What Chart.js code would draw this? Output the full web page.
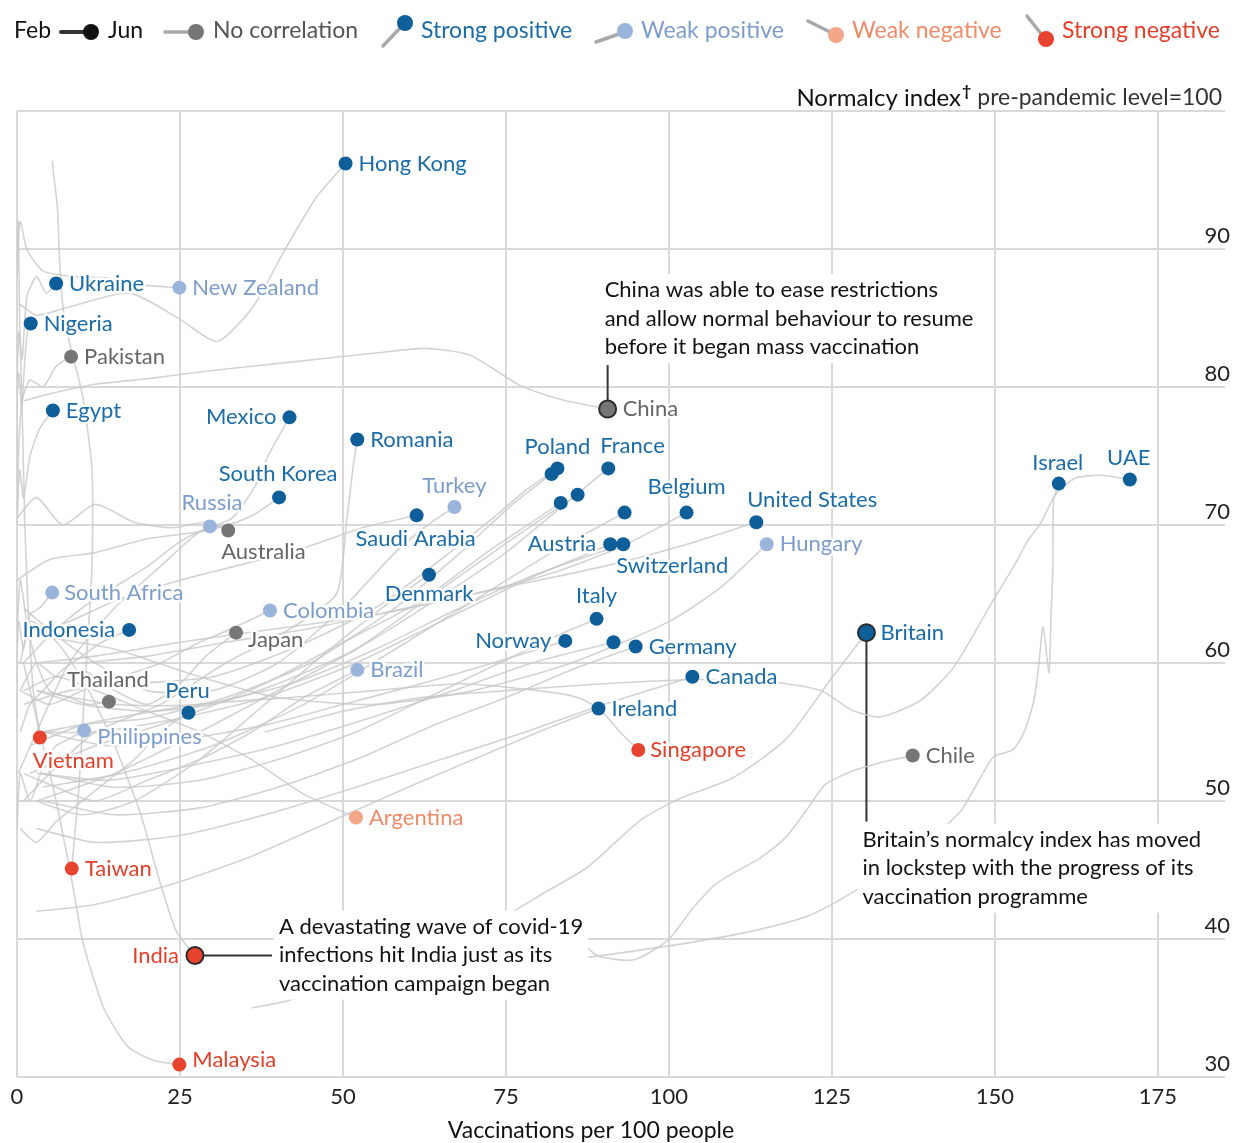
<!DOCTYPE html>
<html>
<head>
<meta charset="utf-8">
<script src="https://cdn.jsdelivr.net/npm/chart.js@4.4.1/dist/chart.umd.min.js"></script>
<style>
html, body { margin: 0; padding: 0; background: #fff; }
#container { width: 1241px; height: 1143px; }
</style>
</head>
<body>
<div id="container"><canvas id="chartcanvas" width="1241" height="1143"></canvas></div>
<script>
// vaccinations per 100 people (x) vs normalcy index (y), Feb -> Jun
var hongKong = [[0.4,86.0],[3,85.2],[8,85.8],[17.3,86.8],[25,84.9],[30.7,83.3],[36.2,85.8],[40.8,89.7],[46,93.8],[50.4,96.2]];
var ukraine = [[0,80.5],[0.3,84],[0.8,82],[1.5,86.5],[3,88],[4.5,86.8],[6.0,87.5]];
var newZealand = [[0,89.5],[0.5,92],[1.5,90],[4,88.4],[9,88],[14,87.9],[19,87.4],[24.9,87.2]];
var nigeria = [[0,75],[0,79],[0.3,81],[0.7,78.5],[1.2,82],[1.6,84],[2.1,84.6]];
var pakistan = [[0,72],[0.3,76],[0.8,79],[2,80.5],[4,80],[6,81.5],[8.3,82.2]];
var egypt = [[0,70],[0.4,74],[1,72],[2,75],[3.5,77],[5.5,78.3]];
var mexico = [[0.2,52],[3,55],[8,60],[15,64],[22,67],[28,69.5],[33,70.5],[36.5,72.8],[38.5,75],[41.8,77.8]];
var romania = [[1,50],[5,52],[12,55],[22,57],[32,60],[42,62.5],[49,65],[50.5,70],[51.5,74],[52.2,76.2]];
var china = [[1,79],[5,79.5],[12,80.2],[20,80.6],[30,81.2],[42,81.8],[55.7,82.5],[62.6,82.8],[69.5,82.3],[77.2,80.1],[83.4,79.1],[90.6,78.4]];
var poland = [[1,57],[8,58],[18,58.5],[30,59],[42,61],[55,64],[65,67.5],[73,70.5],[78,72.5],[82.9,74.1]];
var france = [[3,58],[10,57],[20,56.5],[30,57],[40,58.5],[52,61],[64,64.5],[75,68],[84,71.5],[90.7,74.1]];
var israel = [[58,36],[70,37.5],[85,38.5],[100,39.5],[112,40.5],[122,41.8],[132,44.5],[140,47.2],[144.8,49.3],[147.8,51.7],[149.8,53.2],[152.7,53.7],[154.4,54.9],[156,57.3],[156.7,59.7],[157.4,62.6],[158.3,59.3],[158.6,63.3],[158.9,67.0],[159.0,71.8],[159.8,73.0]];
var uae = [[38,55],[50,56.5],[62,57.5],[75,58],[90,58.5],[105,58.8],[116,58.6],[123.3,58.0],[128,56.6],[132.5,56.1],[138.6,57.3],[143.7,59.7],[149.8,64.6],[152.9,67.0],[155.1,68.9],[157,70.1],[159.3,72.2],[162.4,73.4],[166.3,73.6],[170.7,73.3]];
var southKorea = [[0,66],[5,67.5],[12,68],[20,69],[28,69.5],[33,70.1],[36.5,70.8],[40.2,72.0]];
var turkey = [[1,64],[6,62],[12,60],[20,58],[30,58],[40,60],[50,64],[58,68],[63,70],[67.1,71.3]];
var belgium = [[3,60],[12,60.5],[25,61.5],[40,62.5],[55,63.5],[70,65],[82,66.5],[93,68.5],[102.7,70.9]];
var unitedStates = [[10,60],[20,60.5],[32,61.5],[45,62.5],[60,64],[75,65.5],[90,67],[102,68.5],[113.4,70.2]];
var saudiArabia = [[2,62],[8,63],[15,64.5],[25,66],[35,67.2],[45,68.5],[53,69.8],[61.3,70.7]];
var russia = [[1,60],[5,62],[10,64],[15,65.5],[20,67],[25,68.8],[29.6,69.9]];
var australia = [[0,70.5],[3,72],[7,70],[12,71.5],[18,70.2],[24,69.8],[29,70.2],[32.4,69.6]];
var austria = [[3,55],[12,55],[25,56],[38,57.5],[52,60],[65,63],[78,66],[91.0,68.6]];
var switzerland = [[3,58],[15,57],[28,57],[42,58.5],[55,61],[68,64],[80,66.5],[93.0,68.6]];
var hungary = [[3,62],[15,61],[28,59],[40,57.5],[55,57],[70,58],[85,60],[100,63],[108,65.5],[115.0,68.6]];
var denmark = [[3,50],[10,49],[18,50],[28,53],[38,57],[48,61],[56,64],[63.2,66.4]];
var southAfrica = [[0,56],[0,60],[0.3,63],[1,61],[2,63.5],[3.5,64],[5.4,65.1]];
var colombia = [[0.5,58],[5,57],[10,58],[16,59],[22,60],[28,61.5],[33,62.5],[38.8,63.8]];
var italy = [[4,52],[15,51],[28,51.5],[40,53],[52,55],[63,57.5],[74,60],[82,61.8],[88.9,63.2]];
var indonesia = [[0.5,55],[2,57],[4,58],[7,59.5],[10,60.5],[13,61.5],[17.2,62.4]];
var japan = [[0.5,58],[3,60],[6,59],[10,59.5],[15,58],[20,57],[25,58.5],[29,60.5],[33.6,62.2]];
var britain = [[36,35.0],[42,35.6],[50,37.5],[60,39.5],[68,40.5],[75.7,41.9],[80.7,43.3],[87.5,45.2],[95.6,48.6],[101.3,50.1],[109.9,51.7],[118,54.5],[124.8,58.8],[130.3,62.2]];
var norway = [[4,55],[14,54],[26,54.5],[38,55.5],[50,57],[62,58.5],[73,60],[84.1,61.6]];
var germany = [[4,50],[15,49],[28,49.5],[40,51],[52,53],[64,55.5],[75,57.5],[85,59.5],[94.9,61.2]];
var brazil = [[1,52],[6,51],[12,50],[20,51.5],[28,53],[36,55],[44,57.5],[52.2,59.5]];
var canada = [[3,48],[12,47],[25,47.5],[38,49],[52,51],[65,53],[78,55],[90,57],[103.6,59.0]];
var thailand = [[0,62],[0.5,66],[1.5,63],[3,60],[5,58],[8,57.5],[11,57],[14.1,57.2]];
var peru = [[0.5,48],[3,47],[6,48.5],[10,50],[14,51.5],[18,53],[22,55],[26.3,56.4]];
var ireland = [[3,42],[12,42.5],[24,44],[36,46],[48,48.5],[60,51],[70,53],[80,55],[89.2,56.7]];
var philippines = [[0,48],[0.5,52],[2,50],[4,52.5],[6,54],[8,54.5],[10.3,55.1]];
var vietnam = [[0,88],[0.2,92],[0.4,85],[0.8,78],[1.2,70],[1.8,63],[2.5,58],[3.5,54.6]];
var singapore = [[4,55],[15,56],[28,57],[42,57.5],[55,58],[68,58.5],[80,58],[86,57.5],[89.5,56.6],[92.5,55],[95.3,53.7]];
var chile = [[85.4,40.4],[89,38.8],[94.6,38.5],[99.8,39.9],[103.8,42.3],[107.5,44.1],[114.1,45.9],[118,47.4],[121.5,49.6],[124,51.2],[128.3,52.2],[133.5,52.9],[137.4,53.3]];
var argentina = [[1,58],[6,59],[12,58],[20,56.5],[28,55],[36,53],[44,50.5],[52.0,48.8]];
var taiwan = [[5.4,96.4],[5.6,95.5],[6.2,93],[6.5,89.5],[7,86],[8,83.3],[10,79.5],[11.5,74],[11.5,67],[10.5,59],[9.5,51],[8.4,45.1]];
var india = [[0.5,60],[2,63],[4,62.5],[7,61],[11,58],[15,54],[19,49],[22,44],[24.5,40.5],[27.3,38.8]];
var malaysia = [[1,60],[3,56],[6,50],[8.5,44],[10,40],[11.5,37.5],[13.5,34.8],[17,32.2],[21,31.2],[24.9,30.9]];
// unlabelled European countries in the cluster
var extraA = [[2,54],[10,55.5],[20,56],[32,57.5],[45,60],[58,64],[68,68],[76,71.5],[82.0,73.7]];
var extraB = [[2,52],[12,54],[25,56],[38,58.5],[50,61.5],[62,64.5],[72,68],[83.4,71.6]];
var extraC = [[3,50],[15,52],[28,55],[40,58],[52,61],[64,65],[76,69],[86.0,72.2]];
var extraD = [[4,51],[16,52],[30,54],[44,57],[58,61],[70,64.5],[82,68],[93.2,70.9]];
var extraE = [[3,52],[14,51.5],[26,52.5],[40,54],[54,56],[67,58],[79,60],[91.5,61.5]];

var countries = ['Hong Kong','Ukraine','New Zealand','Nigeria','Pakistan','Egypt','Mexico','Romania','China',
  'Poland','France','Israel','UAE','South Korea','Turkey','Belgium','United States','Saudi Arabia','Russia',
  'Australia','Austria','Switzerland','Hungary','Denmark','South Africa','Colombia','Italy','Indonesia','Japan',
  'Britain','Norway','Germany','Brazil','Canada','Thailand','Peru','Ireland','Philippines','Vietnam','Singapore',
  'Chile','Argentina','Taiwan','India','Malaysia','','','','',''];
var groups = ['strongPos','strongPos','weakPos','strongPos','none','strongPos','strongPos','strongPos','none',
  'strongPos','strongPos','strongPos','strongPos','strongPos','weakPos','strongPos','strongPos','strongPos','weakPos',
  'none','strongPos','strongPos','weakPos','strongPos','weakPos','weakPos','strongPos','strongPos','none',
  'strongPos','strongPos','strongPos','weakPos','strongPos','none','strongPos','strongPos','weakPos','strongNeg','strongNeg',
  'none','weakNeg','strongNeg','strongNeg','strongNeg','strongPos','strongPos','strongPos','strongPos','strongPos'];
var paths = [hongKong, ukraine, newZealand, nigeria, pakistan, egypt, mexico, romania, china,
  poland, france, israel, uae, southKorea, turkey, belgium, unitedStates, saudiArabia, russia,
  australia, austria, switzerland, hungary, denmark, southAfrica, colombia, italy, indonesia, japan,
  britain, norway, germany, brazil, canada, thailand, peru, ireland, philippines, vietnam, singapore,
  chile, argentina, taiwan, india, malaysia, extraA, extraB, extraC, extraD, extraE];

var groupKeys = ['none', 'strongPos', 'weakPos', 'weakNeg', 'strongNeg'];
var groupNames = ['No correlation', 'Strong positive', 'Weak positive', 'Weak negative', 'Strong negative'];
var xTicks = [0, 25, 50, 75, 100, 125, 150, 175];
var yTicks = [30, 40, 50, 60, 70, 80, 90];
var highlighted = ['China', 'Britain', 'India'];

var notes = {
  'China': ['China was able to ease restrictions', 'and allow normal behaviour to resume', 'before it began mass vaccination'],
  'Britain': ['Britain\u2019s normalcy index has moved', 'in lockstep with the progress of its', 'vaccination programme'],
  'India': ['A devastating wave of covid-19', 'infections hit India just as its', 'vaccination campaign began']
};

var groupStyle = {
  none:      { dot: '#767676', text: '#666666' },
  strongPos: { dot: '#0d5e99', text: '#1a6ca8' },
  weakPos:   { dot: '#9ab4db', text: '#7c9dcc' },
  weakNeg:   { dot: '#f4a688', text: '#f08b69' },
  strongNeg: { dot: '#e8432e', text: '#e53f2a' }
};

// label placement: [textAlign, dx, dy] from the dot
var R = ['left', 13, 0];
var labelPlace = {
  'Hong Kong': R, 'Ukraine': R, 'New Zealand': R, 'Nigeria': R, 'Pakistan': R, 'Egypt': R,
  'Mexico': ['right', -13, 0], 'Romania': R, 'China': ['left', 15, 0],
  'Poland': ['center', 0, -22], 'France': ['left', -8, -23], 'Israel': ['center', -1, -21], 'UAE': ['center', -1, -22],
  'South Korea': ['center', -1, -23], 'Turkey': ['center', 0, -21], 'Belgium': ['center', 0, -26],
  'United States': ['left', -9, -22], 'Saudi Arabia': ['center', -1, 24], 'Russia': ['center', 2, -23],
  'Australia': ['left', -7, 21], 'Austria': ['right', -14, 0], 'Switzerland': ['left', -7, 22],
  'Hungary': R, 'Denmark': ['center', 0, 19], 'South Africa': ['left', 12, 0], 'Colombia': R,
  'Italy': ['center', 0, -23], 'Indonesia': ['right', -14, 0], 'Japan': ['left', 12, 7], 'Britain': ['left', 14, 0],
  'Norway': ['right', -14, 0], 'Germany': R, 'Brazil': R, 'Canada': R, 'Thailand': ['center', -1, -22],
  'Peru': ['center', -1, -22], 'Ireland': R, 'Philippines': ['left', 13, 6], 'Vietnam': ['left', -7, 23],
  'Singapore': ['left', 12, 0], 'Chile': R, 'Argentina': R, 'Taiwan': R, 'India': ['right', -16, 0], 'Malaysia': ['left', 13, -5]
};

var FONT = 'Lato, "Noto Sans", sans-serif';

function lastPoint(i) {
  var p = paths[i][paths[i].length - 1];
  return { x: p[0], y: p[1], name: countries[i], group: groups[i] };
}

var datasets = [];

// end-of-period dots, one dataset per group
groupKeys.forEach(function (g) {
  var pts = [];
  for (var i = 0; i < paths.length; i++) if (groups[i] === g) pts.push(lastPoint(i));
  datasets.push({
    type: 'scatter',
    label: g,
    order: 0,
    data: pts,
    backgroundColor: groupStyle[g].dot,
    borderColor: function (c) { return c.raw && highlighted.indexOf(c.raw.name) >= 0 ? '#2b2b2b' : groupStyle[g].dot; },
    borderWidth: function (c) { return c.raw && highlighted.indexOf(c.raw.name) >= 0 ? 2 : 0; },
    pointRadius: function (c) { return c.raw && highlighted.indexOf(c.raw.name) >= 0 ? 8.5 : 7; },
    pointHoverRadius: 7
  });
});

// grey trajectories
paths.forEach(function (p, i) {
  datasets.push({
    type: 'line',
    label: countries[i] || 'other',
    order: 1,
    data: p.map(function (d) { return { x: d[0], y: d[1] }; }),
    showLine: true,
    borderColor: 'rgba(200,200,200,0.8)',
    borderWidth: 1.6,
    pointRadius: 0,
    tension: 0.22,
    fill: false
  });
});

function haloText(ctx, text, x, y) {
  ctx.save();
  ctx.strokeStyle = '#ffffff';
  ctx.lineWidth = 5;
  ctx.lineJoin = 'round';
  ctx.strokeText(text, x, y);
  ctx.restore();
  ctx.fillText(text, x, y);
}

var decorPlugin = {
  id: 'decor',
  beforeDatasetsDraw: function (chart) {
    var ctx = chart.ctx, xs = chart.scales.x, ys = chart.scales.y;
    ctx.save();
    ctx.strokeStyle = '#333';
    ctx.lineWidth = 2;
    countries.forEach(function (name, i) {
      if (!notes[name]) return;
      var p = lastPoint(i);
      var px = xs.getPixelForValue(p.x), py = ys.getPixelForValue(p.y);
      ctx.beginPath();
      if (name === 'China') { ctx.moveTo(px, py); ctx.lineTo(px, py - 44); }
      if (name === 'Britain') { ctx.moveTo(px, py); ctx.lineTo(px, py + 189); }
      if (name === 'India') { ctx.moveTo(px, py); ctx.lineTo(px + 77, py); }
      ctx.stroke();
    });
    ctx.restore();
  },
  afterDatasetsDraw: function (chart) {
    var ctx = chart.ctx, xs = chart.scales.x, ys = chart.scales.y;
    ctx.save();
    ctx.font = '22px ' + FONT;
    ctx.textBaseline = 'middle';
    countries.forEach(function (name, i) {
      if (!name) return;
      var p = lastPoint(i);
      var px = xs.getPixelForValue(p.x), py = ys.getPixelForValue(p.y);
      var pl = labelPlace[name] || R;
      ctx.textAlign = pl[0];
      ctx.fillStyle = groupStyle[p.group].text;
      haloText(ctx, name, px + pl[1], py + pl[2]);
    });

    // annotation blocks on white boxes
    var offsets = { 'China': [-3, -119], 'Britain': [-4, 207], 'India': [84, -29] };
    countries.forEach(function (name, i) {
      if (!notes[name]) return;
      var p = lastPoint(i);
      var px = xs.getPixelForValue(p.x), py = ys.getPixelForValue(p.y);
      var tx = px + offsets[name][0], ty = py + offsets[name][1];
      var lines = notes[name], w = 0;
      lines.forEach(function (t) { w = Math.max(w, ctx.measureText(t).width); });
      ctx.fillStyle = '#ffffff';
      ctx.fillRect(tx - 5, ty - 16, w + 10, 28.5 * (lines.length - 1) + 32);
      ctx.fillStyle = '#121212';
      ctx.textAlign = 'left';
      lines.forEach(function (t, k) { ctx.fillText(t, tx, ty + 28.5 * k); });
    });
    ctx.restore();
  },
  afterDraw: function (chart) {
    var ctx = chart.ctx;
    ctx.save();
    ctx.textBaseline = 'middle';
    ctx.lineCap = 'round';
    ctx.font = '23px ' + FONT;

    // legend
    var ly = 31;
    ctx.fillStyle = '#111';
    ctx.textAlign = 'left';
    ctx.fillText('Feb', 14, ly);
    ctx.strokeStyle = '#333'; ctx.lineWidth = 4;
    ctx.beginPath(); ctx.moveTo(61, ly + 1); ctx.lineTo(86, ly + 1); ctx.stroke();
    ctx.fillStyle = '#111';
    ctx.beginPath(); ctx.arc(91, ly + 1, 8, 0, Math.PI * 2); ctx.fill();
    ctx.fillText('Jun', 108, ly);

    var keys = [
      { g: 'none', a: [165, 32], b: [190, 32], d: [196, 32], t: 213 },
      { g: 'strongPos', a: [383, 46], b: [401, 27], d: [405, 23], t: 421 },
      { g: 'weakPos', a: [596, 42], b: [619, 34], d: [625, 31], t: 641 },
      { g: 'weakNeg', a: [808, 21], b: [830, 32], d: [836, 35], t: 852 },
      { g: 'strongNeg', a: [1027, 16], b: [1042, 35], d: [1046, 39], t: 1062 }
    ];
    keys.forEach(function (k) {
      ctx.strokeStyle = '#a8a8a8'; ctx.lineWidth = 3.5;
      ctx.beginPath(); ctx.moveTo(k.a[0], k.a[1]); ctx.lineTo(k.b[0], k.b[1]); ctx.stroke();
      ctx.fillStyle = groupStyle[k.g].dot;
      ctx.beginPath(); ctx.arc(k.d[0], k.d[1], 8, 0, Math.PI * 2); ctx.fill();
      ctx.fillStyle = k.g === 'none' ? '#555' : groupStyle[k.g].text;
      ctx.fillText(groupNames[groupKeys.indexOf(k.g)], k.t, ly);
    });

    // y-axis title, right aligned over the plot
    var right = 1222, ty = 98;
    ctx.font = '23px ' + FONT;
    var rest = ' pre-pandemic level=100';
    var wRest = ctx.measureText(rest).width;
    ctx.fillStyle = '#333';
    ctx.fillText(rest, right - wRest, ty);
    ctx.font = 'bold 16px ' + FONT;
    var wDag = ctx.measureText('\u2020').width;
    ctx.fillStyle = '#111';
    ctx.fillText('\u2020', right - wRest - wDag, ty - 7);
    ctx.font = '24px ' + FONT;
    var head = 'Normalcy index';
    var wHead = ctx.measureText(head).width;
    ctx.fillText(head, right - wRest - wDag - wHead - 1, ty);

    // x-axis title
    ctx.textAlign = 'center';
    ctx.fillStyle = '#111';
    ctx.font = '23px ' + FONT;
    ctx.fillText('Vaccinations per 100 people', 591, 1131);
    ctx.restore();
  }
};

function draw() {
  var ctx = document.getElementById('chartcanvas');
  new Chart(ctx, {
    data: { datasets: datasets },
    options: {
      responsive: false,
      animation: false,
      devicePixelRatio: 1,
      layout: { padding: { top: 111, left: 17, right: 16, bottom: 0 } },
      plugins: { legend: { display: false }, tooltip: { enabled: false } },
      scales: {
        x: {
          type: 'linear',
          min: 0,
          max: 185.3,
          afterFit: function (s) { s.height = 66; },
          afterBuildTicks: function (s) { s.ticks = xTicks.map(function (v) { return { value: v }; }); },
          ticks: { padding: 7, color: '#222', font: { family: FONT, size: 22 }, maxRotation: 0, autoSkip: false },
          grid: { color: '#d9d9d9', lineWidth: 2, drawTicks: false },
          border: { display: false }
        },
        y: {
          type: 'linear',
          position: 'right',
          min: 30,
          max: 100,
          afterFit: function (s) { s.width = 0; },
          afterBuildTicks: function (s) { s.ticks = yTicks.concat([100]).map(function (v) { return { value: v }; }); },
          ticks: {
            mirror: true, padding: 5, labelOffset: -13, color: '#222',
            font: { family: FONT, size: 22 },
            callback: function (v) { return v === 100 ? '' : v; }
          },
          grid: { color: '#d9d9d9', lineWidth: 2, drawTicks: false },
          border: { display: false }
        }
      }
    },
    plugins: [decorPlugin]
  });
}

if (document.fonts && document.fonts.load) {
  document.fonts.load('22px Lato').then(draw, draw);
} else {
  draw();
}
</script>
</body>
</html>
